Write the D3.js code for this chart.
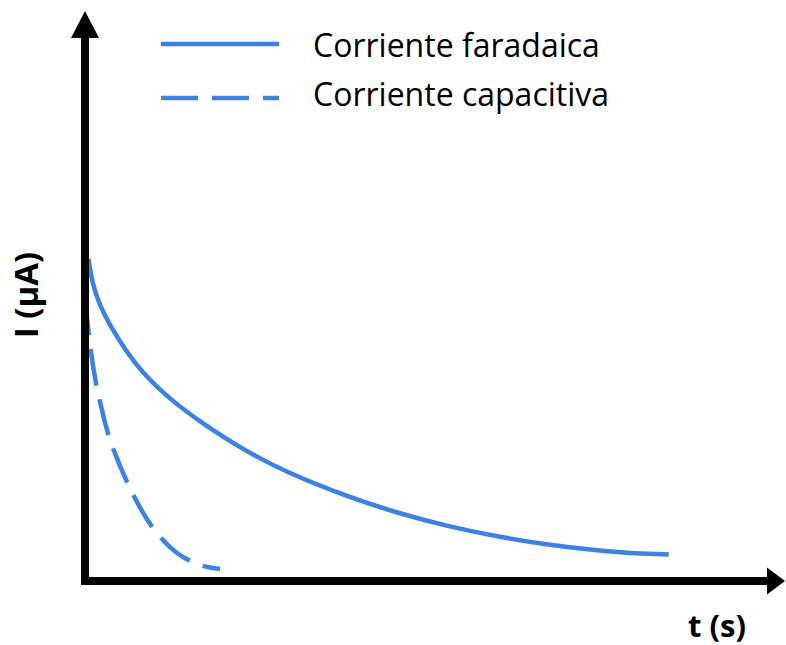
<!DOCTYPE html>
<html>
<head>
<meta charset="utf-8">
<script src="https://cdn.jsdelivr.net/npm/d3@7"></script>
<style>
  html, body { margin: 0; padding: 0; background: #fff; }
  svg { display: block; }
</style>
</head>
<body>
<svg id="chart" width="786" height="645"></svg>
<script>
// ---- data (arbitrary units) ----
const seriesNames = ["Corriente faradaica", "Corriente capacitiva"];
const faradaicT = [0.5, 1.0, 2.0, 3.5, 5.0, 7.9, 12.6, 16.4, 22.1, 28.6, 37.9, 45.0, 52.1, 59.3, 66.4, 73.6, 78.6, 83.4];
const faradaicI = [56.5, 52.5, 48.6, 45.0, 42.0, 36.8, 31.4, 28.0, 23.4, 19.1, 14.6, 11.8, 9.5, 7.7, 6.3, 5.3, 4.8, 4.65];
const capacitiveT = [0, 0.43, 0.86, 1.67, 2.14, 3.43, 4.19, 5.96, 9.71, 12.1, 15.4, 19.3];
const capacitiveI = [49.6, 44.6, 40.2, 34.1, 31.5, 25.3, 22.7, 17.5, 9.3, 6.0, 3.3, 2.1];
const axisLabels = ["t (s)", "I (µA)"];

// ---- layout ----
const svg = d3.select("#chart");
const blue = "#3b82e2";
const x = d3.scaleLinear().domain([0, 100]).range([85, 785]);
const y = d3.scaleLinear().domain([0, 100]).range([581, 11]);

const lineSmooth = d3.line().x(d => x(d[0])).y(d => y(d[1])).curve(d3.curveBasis);
const lineMono = d3.line().x(d => x(d[0])).y(d => y(d[1])).curve(d3.curveMonotoneX);

const farData = faradaicT.map((t, i) => [t, faradaicI[i]]);
const capData = capacitiveT.map((t, i) => [t, capacitiveI[i]]);

svg.append("path").datum(farData)
  .attr("d", lineSmooth).attr("fill", "none")
  .attr("stroke", blue).attr("stroke-width", 4.5);

svg.append("path").datum(capData)
  .attr("d", lineMono).attr("fill", "none")
  .attr("stroke", blue).attr("stroke-width", 4.5)
  .attr("stroke-dasharray", "37,14");

// ---- axes with arrows ----
const x0 = x(0), y0 = y(0);
const xEnd = x(100);      // arrow tip (right)
const yEnd = y(100);      // arrow tip (top)
const xArrowBase = xEnd - 18;
const yArrowBase = yEnd + 27;

svg.append("path")
  .attr("d", d3.line()([[x0 - 4, y0], [xArrowBase + 1, y0]]))
  .attr("stroke", "#000").attr("stroke-width", 8).attr("fill", "none");
svg.append("path")
  .attr("d", d3.line()([[x0, y0 + 4], [x0, yArrowBase - 1]]))
  .attr("stroke", "#000").attr("stroke-width", 8).attr("fill", "none");

svg.append("path")
  .attr("d", d3.line()([[xEnd, y0], [xArrowBase, y0 - 13.5], [xArrowBase, y0 + 13.5]]) + "Z")
  .attr("fill", "#000");
svg.append("path")
  .attr("d", d3.line()([[x0, yEnd], [x0 - 14, yArrowBase], [x0 + 14, yArrowBase]]) + "Z")
  .attr("fill", "#000");

// ---- axis labels ----
const labelFont = "'Open Sans', sans-serif";
svg.append("text")
  .attr("x", 688).attr("y", 637)
  .attr("font-family", labelFont).attr("font-weight", "bold")
  .attr("font-size", 31).attr("fill", "#000")
  .text(axisLabels[0]);

svg.append("text")
  .attr("transform", "translate(38,295) rotate(-90)")
  .attr("text-anchor", "middle")
  .attr("font-family", labelFont).attr("font-weight", "bold")
  .attr("font-size", 33).attr("fill", "#000")
  .text(axisLabels[1]);

// ---- legend ----
const legend = svg.append("g");
const legendY = [44, 98];
const legendBaseline = [56.5, 106];
seriesNames.forEach((name, i) => {
  legend.append("path")
    .attr("d", d3.line()([[161, legendY[i]], [279, legendY[i]]]))
    .attr("stroke", blue).attr("stroke-width", 4.5)
    .attr("stroke-dasharray", i === 1 ? "37,14" : null);
  legend.append("text")
    .attr("x", 313).attr("y", legendBaseline[i])
    .attr("font-family", labelFont)
    .attr("font-size", 32).attr("fill", "#000")
    .text(name);
});
</script>
</body>
</html>
